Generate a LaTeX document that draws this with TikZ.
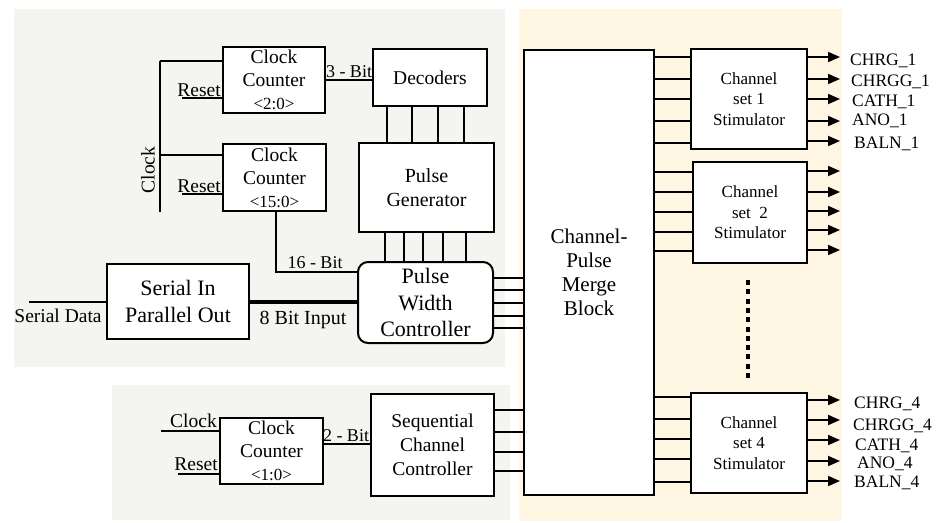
\documentclass[tikz,border=0pt]{standalone}
\usepackage{fontspec}
\setmainfont{Liberation Serif}
\usetikzlibrary{arrows.meta}
\definecolor{panelgray}{HTML}{F4F5F1}
\definecolor{panelcream}{HTML}{FFF6E4}
\newcommand{\fs}[2]{\rmfamily\fontsize{#1}{#2}\selectfont}
\begin{document}
\begin{tikzpicture}[x=1pt,y=-1pt,
  blockbox/.style={draw, line width=2pt, fill=white, inner sep=0pt, align=center, font=\fs{19.5}{23}},
  bigbox/.style={blockbox, font=\fs{22}{26.5}},
  chbox/.style={blockbox, font=\fs{17}{20.5}},
  wire/.style={line width=1.8pt},
  busline/.style={line width=4.5pt},
  outarrow/.style={line width=1.8pt, -{Triangle[length=12pt,width=10pt]}},
  lbl/.style={inner sep=0pt, font=\fs{19.5}{23}},
  sig/.style={inner sep=0pt, anchor=base west, font=\fs{17.5}{20}},
]
\useasboundingbox (0,0) rectangle (939,522);
% panels
\fill[panelgray] (14,9) rectangle (505,367);
\fill[panelgray] (112,385) rectangle (510,520);
\fill[panelcream] (519,9) rectangle (842,521);

% blocks
\node[blockbox, minimum width=102pt, minimum height=66pt] (cc1) at (274,80) {Clock\\Counter\\{\fs{17}{23}<2:0>}};
\node[blockbox, minimum width=114pt, minimum height=57pt] (dec) at (430,77.5) {Decoders};
\node[blockbox, minimum width=103pt, minimum height=67pt] (cc2) at (274.5,177.5) {Clock\\Counter\\{\fs{17}{23}<15:0>}};
\node[blockbox, minimum width=135pt, minimum height=89pt, font=\fs{20}{24}] (pg) at (426.5,187.5) {Pulse\\Generator};
\node[bigbox, rounded corners=10pt, minimum width=135pt, minimum height=81pt] (pwc) at (425.5,302.5) {Pulse\\Width\\Controller};
\node[bigbox, minimum width=142pt, minimum height=75pt] (sipo) at (178,301.5) {Serial In\\Parallel Out};
\node[blockbox, minimum width=130pt, minimum height=445pt, font=\fs{21}{24}] (merge) at (589,272.5) {Channel-\\Pulse\\Merge\\Block};
\node[chbox, minimum width=116pt, minimum height=100pt] (cs1) at (749,99) {Channel\\set 1\\Stimulator};
\node[chbox, minimum width=114pt, minimum height=101pt] (cs2) at (750,212.5) {Channel\\set\ \ 2\\Stimulator};
\node[chbox, minimum width=116pt, minimum height=100pt] (cs4) at (749,443) {Channel\\set 4\\Stimulator};
\node[blockbox, minimum width=123pt, minimum height=102pt, font=\fs{19.5}{24}] (scc) at (432.5,445) {Sequential\\Channel\\Controller};
\node[blockbox, minimum width=103pt, minimum height=66pt] (cc3) at (271.5,451) {Clock\\Counter\\{\fs{17}{23}<1:0>}};

% clock tree for counters
\coordinate (clktop) at (160,61);
\coordinate (clkmid) at (160,155);
\coordinate (clkbot) at (160,212);
\draw[wire] (clktop) -- (clkbot);
\draw[wire] (clktop) -- (clktop -| cc1.west);
\draw[wire] (clkmid) -- (clkmid -| cc2.west);
\node[lbl, rotate=90] (clklbl) at (148,170) {Clock};

\coordinate (rst1) at (182,98);
\draw[wire] (rst1) -- (rst1 -| cc1.west);
\node[lbl, anchor=base east] (rst1lbl) at (221,96) {Reset};
\coordinate (rst2) at (182,194);
\draw[wire] (rst2) -- (rst2 -| cc2.west);
\node[lbl, anchor=base east] (rst2lbl) at (221,192) {Reset};

% counter to decoders
\draw[wire] (cc1.east |- 0,80) -- (dec.west |- 0,80);
\node[lbl, anchor=base, font=\fs{18}{20}] (b3) at (349,77) {3 - Bit};

% decoders to pulse generator
\foreach \x in {387,412,438,464} \draw[wire] (dec.south -| \x,0) -- (pg.north -| \x,0);
% pulse generator to pwc
\foreach \x in {385,404,423,443,466} \draw[wire] (pg.south -| \x,0) -- (pwc.north -| \x,0);

% counter 2 to pwc
\coordinate (bend16) at (276,272);
\draw[wire] (cc2.south -| bend16) -- (bend16) -- (bend16 -| pwc.west);
\node[lbl, anchor=base, font=\fs{18}{20}] (b16) at (315,268) {16 - Bit};

% serial data
\coordinate (sdin) at (29,302);
\draw[wire] (sdin) -- (sdin -| sipo.west);
\node[lbl, anchor=base] (sdlbl) at (58,322) {Serial Data};
\draw[busline] (sipo.east |- 0,302) -- (pwc.west |- 0,302);
\node[lbl, anchor=base, font=\fs{20}{22}] (b8) at (303,324) {8 Bit Input};

% pwc to merge
\foreach \y in {278,290,303,316,328} \draw[wire] (pwc.east |- 0,\y) -- (merge.west |- 0,\y);

% sequential channel controller section
\coordinate (clk3) at (161,431);
\draw[wire] (clk3) -- (clk3 -| cc3.west);
\node[lbl, anchor=base east] (clk3lbl) at (217,427) {Clock};
\coordinate (rst3) at (178,474);
\draw[wire] (rst3) -- (rst3 -| cc3.west);
\node[lbl, anchor=base east] (rst3lbl) at (218,470) {Reset};
\draw[wire] (cc3.east |- 0,444) -- (scc.west |- 0,444);
\node[lbl, anchor=base, font=\fs{18}{20}] (b2) at (346,441) {2 - Bit};
\foreach \y in {410,432,452,471} \draw[wire] (scc.east |- 0,\y) -- (merge.west |- 0,\y);

% merge to channel sets
\foreach \y in {57,79,99,121,143} \draw[wire] (merge.east |- 0,\y) -- (cs1.west |- 0,\y);
\foreach \y in {172,192,212,232,251} \draw[wire] (merge.east |- 0,\y) -- (cs2.west |- 0,\y);
\foreach \y in {397,419,439,459,482} \draw[wire] (merge.east |- 0,\y) -- (cs4.west |- 0,\y);

% outputs
\foreach \y in {57,79,99,121,141} \draw[outarrow] (cs1.east |- 0,\y) -- (840,\y);
\foreach \y in {171,192,211,230,250} \draw[outarrow] (cs2.east |- 0,\y) -- (840,\y);
\foreach \y in {400,420,440,461,481} \draw[outarrow] (cs4.east |- 0,\y) -- (840,\y);

\node[sig] (o11) at (850,65) {CHRG\_1};
\node[sig] (o12) at (851,86) {CHRGG\_1};
\node[sig] (o13) at (852,106) {CATH\_1};
\node[sig] (o14) at (852,125) {ANO\_1};
\node[sig] (o15) at (854,148) {BALN\_1};

\node[sig] (o41) at (854,408) {CHRG\_4};
\node[sig] (o42) at (853,430) {CHRGG\_4};
\node[sig] (o43) at (855,450) {CATH\_4};
\node[sig] (o44) at (857,468) {ANO\_4};
\node[sig] (o45) at (854,487) {BALN\_4};

% continuation dots
\coordinate (dtop) at (748,280);
\coordinate (dbot) at (748,382);
\draw[line width=4pt, dash pattern=on 5pt off 4.3pt] (dtop) -- (dbot);
\end{tikzpicture}
\end{document}
